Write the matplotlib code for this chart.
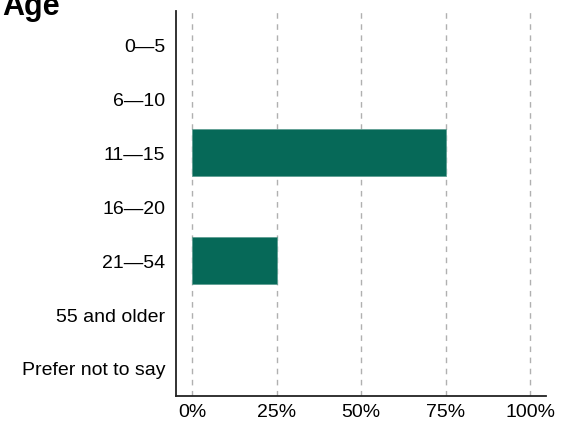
import matplotlib.pyplot as plt
from matplotlib.ticker import PercentFormatter

plt.rcParams['font.family'] = ['Liberation Sans', 'DejaVu Sans']

categories = ["0\u20145", "6\u201410", "11\u201415", "16\u201420", "21\u201454", "55 and older", "Prefer not to say"]
values = [0, 0, 75, 0, 25, 0, 0]
xticks = [0, 25, 50, 75, 100]

fig = plt.figure(figsize=(5.7, 4.27), dpi=100)
ax = fig.add_axes([0.309, 0.0703, 0.649, 0.9017])

ax.barh(range(len(categories)), values, height=0.87, color="#066958",
        edgecolor="#5f9e92", linewidth=[0.6 if v > 0 else 0 for v in values], zorder=3)

ax.set_yticks(range(len(categories)))
ax.set_yticklabels(categories, fontsize=14)
ax.set_ylim(6.52, -0.63)

ax.set_xticks(xticks)
ax.xaxis.set_major_formatter(PercentFormatter(decimals=0))
ax.set_xlim(-4.7, 104.7)
ax.tick_params(axis='x', labelsize=14, length=0, pad=5)
ax.tick_params(axis='y', length=0, pad=8)

ax.grid(axis='x', linestyle=(0, (4, 4)), color="#b0b0b0", linewidth=1, zorder=4)
for s in ['top', 'right']:
    ax.spines[s].set_visible(False)
for s in ['left', 'bottom']:
    ax.spines[s].set_color("#222222")
    ax.spines[s].set_linewidth(1.3)

fig.text(0.004, 1 - 15 / 427, "Age", fontsize=22, fontweight='bold', va='baseline')

fig.savefig("out.png", dpi=100)
